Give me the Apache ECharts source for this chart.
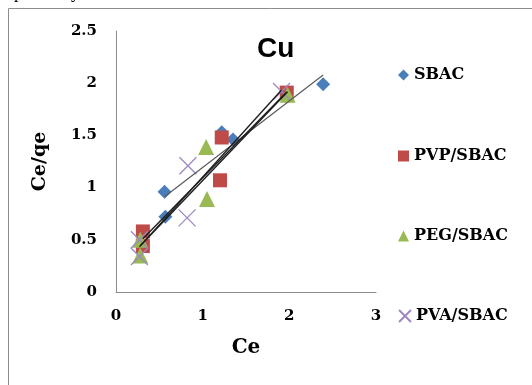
<!DOCTYPE html>
<html>
<head>
<meta charset="utf-8">
<script src="https://cdn.jsdelivr.net/npm/echarts@6/dist/echarts.min.js"></script>
<style>
  html, body { margin: 0; padding: 0; background: #fff; }
  #chart { width: 532px; height: 385px; }
</style>
</head>
<body>
<div id="chart"></div>
<script>
// Cu isotherm: Ce versus Ce/qe for four adsorbents
const seriesNames = ['SBAC', 'PVP/SBAC', 'PEG/SBAC', 'PVA/SBAC'];

const sbacCe   = [0.56, 0.57, 1.22, 1.35, 2.39];
const sbacRatio = [0.96, 0.72, 1.53, 1.46, 1.99];

const pvpCe    = [0.31, 0.31, 1.20, 1.22, 1.97];
const pvpRatio = [0.58, 0.44, 1.07, 1.48, 1.91];

const pegCe    = [0.28, 0.28, 1.04, 1.05, 1.98];
const pegRatio = [0.35, 0.50, 1.39, 0.89, 1.89];

const pvaCe    = [0.27, 0.27, 0.83, 0.82, 1.91];
const pvaRatio = [0.34, 0.50, 1.21, 0.71, 1.92];

const xTicks = [0, 1, 2, 3];
const yTicks = [0, 0.5, 1, 1.5, 2, 2.5];

const colors = ['#4a7ebb', '#be4b48', '#98b954', '#9d89c2'];
const crossPath = 'path://M0,0L16,16M16,0L0,16';
const symbols = ['diamond', 'rect', 'triangle', crossPath];
const symbolSizes = [14, 14, 16, 17];

const xs = [sbacCe, pvpCe, pegCe, pvaCe];
const ys = [sbacRatio, pvpRatio, pegRatio, pvaRatio];

// least-squares trend line spanning each series' own Ce range
function trend(x, y) {
  const n = x.length;
  const mx = x.reduce((a, b) => a + b, 0) / n;
  const my = y.reduce((a, b) => a + b, 0) / n;
  let sxx = 0, sxy = 0;
  for (let i = 0; i < n; i++) {
    sxx += (x[i] - mx) * (x[i] - mx);
    sxy += (x[i] - mx) * (y[i] - my);
  }
  const k = sxy / sxx, b = my - k * mx;
  const lo = Math.min(...x), hi = Math.max(...x);
  return [[lo, k * lo + b], [hi, k * hi + b]];
}

const serif = 'DejaVu Serif';
const series = [];
seriesNames.forEach((name, i) => {
  const isCross = i === 3;
  series.push({
    name: name,
    type: 'scatter',
    symbol: symbols[i],
    symbolSize: symbolSizes[i],
    data: xs[i].map((v, j) => [v, ys[i][j]]),
    itemStyle: isCross
      ? { color: colors[i], borderColor: colors[i], borderWidth: 1.3, opacity: 1 }
      : { color: colors[i], opacity: 1 },
    z: 2 + i
  });
});
seriesNames.forEach((name, i) => {
  series.push({
    name: name + ' trend',
    type: 'line',
    data: trend(xs[i], ys[i]),
    symbol: 'none',
    silent: true,
    lineStyle: { color: i === 0 ? '#5a5a5a' : '#1e1e1e', width: i === 0 ? 1.2 : 1.4 },
    z: 10
  });
});

const legendTops = [62, 143, 223, 303];
const legends = seriesNames.map((name, i) => ({
  data: [name],
  left: 393,
  top: legendTops[i],
  itemWidth: i === 3 ? 12 : 11,
  itemHeight: i === 3 ? 12 : 11,
  itemGap: 4,
  selectedMode: false,
  textStyle: { fontFamily: serif, fontWeight: 'bold', fontSize: 16, color: '#000' }
}));

const chart = echarts.init(document.getElementById('chart'), null, { renderer: 'canvas' });
chart.setOption({
  animation: false,
  backgroundColor: '#fff',
  title: {
    text: 'Cu',
    left: 252,
    top: 30,
    textStyle: { fontFamily: 'Liberation Sans', fontWeight: 'bold', fontSize: 28, color: '#000' }
  },
  legend: legends,
  grid: { left: 116, right: 156, top: 31, bottom: 93, containLabel: false },
  xAxis: {
    type: 'value',
    min: xTicks[0],
    max: xTicks[xTicks.length - 1],
    interval: 1,
    name: 'Ce',
    nameLocation: 'middle',
    nameGap: 46,
    nameTextStyle: { fontFamily: serif, fontWeight: 'bold', fontSize: 20, color: '#000' },
    axisLine: { show: true, lineStyle: { color: '#8c8c8c', width: 1 } },
    axisTick: { show: false },
    splitLine: { show: false },
    axisLabel: { margin: 17, fontFamily: serif, fontWeight: 'bold', fontSize: 15, color: '#000' }
  },
  yAxis: {
    type: 'value',
    min: yTicks[0],
    max: yTicks[yTicks.length - 1],
    interval: 0.5,
    name: 'Ce/qe',
    nameLocation: 'middle',
    nameGap: 66,
    nameRotate: 90,
    nameTextStyle: { fontFamily: serif, fontWeight: 'bold', fontSize: 19, color: '#000' },
    axisLine: { show: true, lineStyle: { color: '#8c8c8c', width: 1 } },
    axisTick: { show: false },
    splitLine: { show: false },
    axisLabel: { margin: 19, fontFamily: serif, fontWeight: 'bold', fontSize: 15, color: '#000' }
  },
  graphic: [
    {
      type: 'rect',
      shape: { x: 8.5, y: 8.5, width: 600, height: 500 },
      style: { fill: 'none', stroke: '#8c8c8c', lineWidth: 1 },
      silent: true,
      z: -1
    },
    {
      type: 'text',
      x: -7,
      y: 2,
      style: { text: 'respectively.', fontFamily: 'Liberation Serif', fontSize: 18, fill: '#000', verticalAlign: 'bottom' },
      silent: true
    }
  ],
  series: series
});
</script>
</body>
</html>
